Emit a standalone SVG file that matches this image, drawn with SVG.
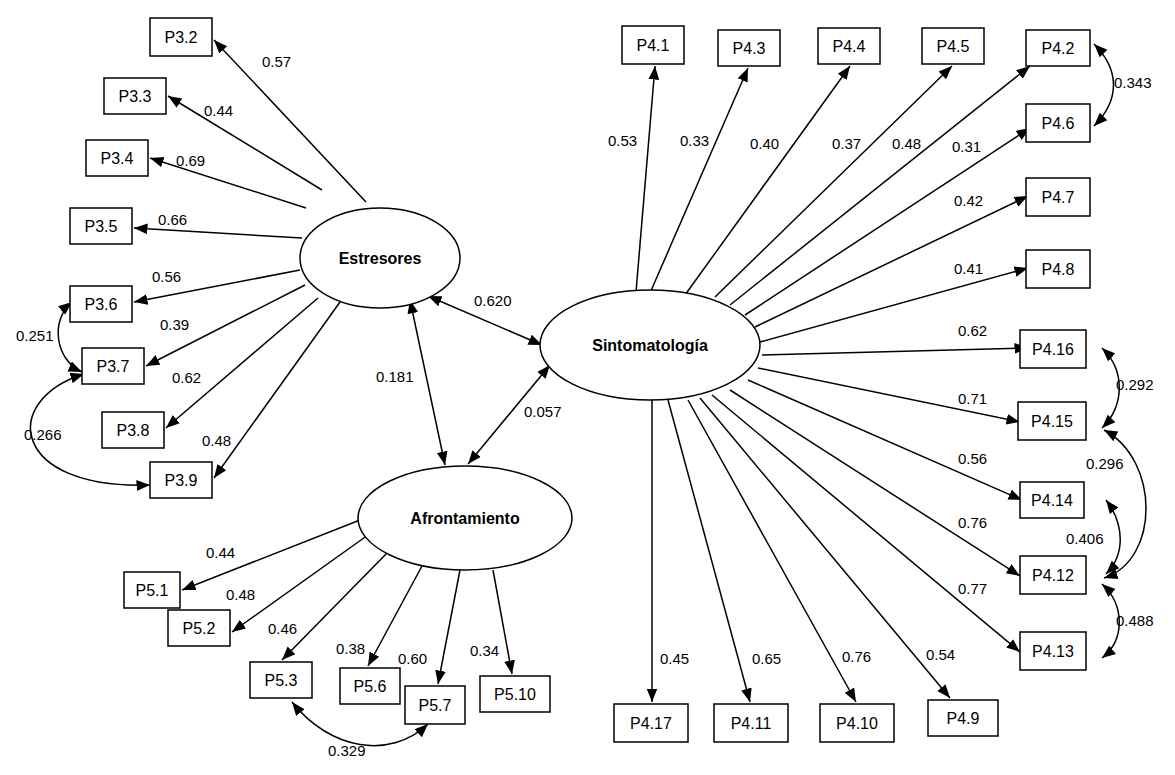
<svg xmlns="http://www.w3.org/2000/svg" width="1175" height="775" viewBox="0 0 1175 775">
<defs>
<marker id="a" viewBox="0 0 10 10" refX="10" refY="5" markerWidth="9" markerHeight="9" orient="auto-start-reverse"><path d="M0,1 L10,5 L0,9 z" fill="#000"/></marker>
<style>
rect{fill:#fff;stroke:#000;stroke-width:1.5}
ellipse{fill:#fff;stroke:#000;stroke-width:1.5}
.c path,.c line{fill:none;stroke:#000;stroke-width:1.5;marker-end:url(#a)}
.c .b{marker-start:url(#a)}
text{font-family:"Liberation Sans",Arial,sans-serif;font-size:15px}
.n text{text-anchor:middle;dominant-baseline:central;font-size:16px}
.l{font-size:14px}
.e{font-weight:bold;font-size:16px;text-anchor:middle;dominant-baseline:central}
</style>
</defs>
<rect x="0" y="0" width="1175" height="775" style="stroke:none"/>
<g class="c">
<line x1="366" y1="202" x2="214" y2="40"/>
<line x1="322" y1="190" x2="168" y2="96"/>
<line x1="306" y1="208" x2="150" y2="158"/>
<line x1="302" y1="238" x2="134" y2="228"/>
<line x1="300" y1="270" x2="134" y2="302"/>
<line x1="305" y1="285" x2="146" y2="366"/>
<line x1="318" y1="298" x2="166" y2="428"/>
<line x1="340" y1="302" x2="214" y2="478"/>
<path class="b" d="M72,302 C50,320 55,360 82,372"/>
<path class="b" d="M84,374 C0,400 10,490 150,485"/>
<line x1="636" y1="292" x2="655" y2="66"/>
<line x1="650" y1="293" x2="748" y2="68"/>
<line x1="685" y1="295" x2="850" y2="66"/>
<line x1="715" y1="297" x2="952" y2="66"/>
<line x1="730" y1="305" x2="1030" y2="66"/>
<line x1="745" y1="315" x2="1030" y2="128"/>
<line x1="755" y1="327" x2="1028" y2="196"/>
<line x1="760" y1="342" x2="1028" y2="268"/>
<line x1="762" y1="355" x2="1028" y2="348"/>
<line x1="758" y1="368" x2="1020" y2="422"/>
<line x1="748" y1="380" x2="1022" y2="500"/>
<line x1="730" y1="390" x2="1020" y2="576"/>
<line x1="712" y1="395" x2="1020" y2="652"/>
<line x1="652" y1="398" x2="652" y2="702"/>
<line x1="668" y1="400" x2="750" y2="702"/>
<line x1="688" y1="400" x2="856" y2="702"/>
<line x1="700" y1="398" x2="950" y2="698"/>
<path class="b" d="M1094,44 C1120,70 1120,100 1094,126"/>
<path class="b" d="M1102,348 C1125,370 1125,405 1102,428"/>
<path class="b" d="M1104,430 C1160,460 1160,560 1104,578"/>
<path class="b" d="M1106,500 C1125,525 1125,555 1106,574"/>
<path class="b" d="M1102,584 C1125,605 1125,640 1102,658"/>
<line class="b" x1="428" y1="296" x2="542" y2="345"/>
<line class="b" x1="410" y1="300" x2="445" y2="465"/>
<line class="b" x1="550" y1="365" x2="468" y2="464"/>
<line x1="360" y1="520" x2="182" y2="590"/>
<line x1="368" y1="535" x2="232" y2="632"/>
<line x1="388" y1="552" x2="282" y2="660"/>
<line x1="422" y1="566" x2="368" y2="666"/>
<line x1="460" y1="570" x2="438" y2="684"/>
<line x1="493" y1="570" x2="512" y2="674"/>
<path class="b" d="M292,702 C330,750 390,760 428,724"/>
</g>
<g class="l">
<text x="262" y="67">0.57</text><text x="204" y="116">0.44</text><text x="176" y="166">0.69</text>
<text x="158" y="225">0.66</text><text x="152" y="282">0.56</text><text x="160" y="330">0.39</text>
<text x="172" y="383">0.62</text><text x="202" y="446">0.48</text>
<text x="16" y="341">0.251</text><text x="24" y="440">0.266</text>
<text x="608" y="146">0.53</text><text x="680" y="146">0.33</text><text x="750" y="149">0.40</text>
<text x="832" y="149">0.37</text><text x="892" y="149">0.48</text><text x="952" y="152">0.31</text>
<text x="954" y="206">0.42</text><text x="954" y="274">0.41</text><text x="958" y="336">0.62</text>
<text x="958" y="404">0.71</text><text x="958" y="464">0.56</text><text x="958" y="528">0.76</text>
<text x="958" y="594">0.77</text><text x="660" y="664">0.45</text><text x="752" y="664">0.65</text>
<text x="842" y="662">0.76</text><text x="926" y="660">0.54</text>
<text x="1114" y="88">0.343</text><text x="1116" y="390">0.292</text><text x="1086" y="469">0.296</text>
<text x="1066" y="544">0.406</text><text x="1116" y="626">0.488</text>
<text x="474" y="306">0.620</text><text x="376" y="382">0.181</text><text x="524" y="417">0.057</text>
<text x="206" y="558">0.44</text><text x="226" y="600">0.48</text><text x="268" y="634">0.46</text>
<text x="336" y="654">0.38</text><text x="398" y="664">0.60</text><text x="470" y="656">0.34</text>
<text x="328" y="756">0.329</text>
</g>
<g id="estresores"><ellipse cx="380" cy="258" rx="80" ry="50"/><text class="e" x="380" y="258">Estresores</text></g>
<g id="sintomatologia"><ellipse cx="650" cy="345" rx="110" ry="55"/><text class="e" x="650" y="345">Sintomatología</text></g>
<g id="afrontamiento"><ellipse cx="465" cy="518" rx="107" ry="52"/><text class="e" x="465" y="518">Afrontamiento</text></g>
<g class="n">
<g id="p3_2"><rect x="150" y="18" width="62" height="38"/><text x="181" y="37">P3.2</text></g>
<g id="p3_3"><rect x="104" y="78" width="62" height="36"/><text x="135" y="96">P3.3</text></g>
<g id="p3_4"><rect x="86" y="140" width="62" height="36"/><text x="117" y="158">P3.4</text></g>
<g id="p3_5"><rect x="70" y="208" width="62" height="36"/><text x="101" y="226">P3.5</text></g>
<g id="p3_6"><rect x="70" y="286" width="62" height="36"/><text x="101" y="304">P3.6</text></g>
<g id="p3_7"><rect x="82" y="348" width="62" height="36"/><text x="113" y="366">P3.7</text></g>
<g id="p3_8"><rect x="102" y="412" width="62" height="36"/><text x="133" y="430">P3.8</text></g>
<g id="p3_9"><rect x="150" y="462" width="62" height="36"/><text x="181" y="480">P3.9</text></g>
<g id="p4_1"><rect x="622" y="26" width="62" height="38"/><text x="653" y="45">P4.1</text></g>
<g id="p4_3"><rect x="718" y="30" width="62" height="36"/><text x="749" y="48">P4.3</text></g>
<g id="p4_4"><rect x="818" y="28" width="62" height="36"/><text x="849" y="46">P4.4</text></g>
<g id="p4_5"><rect x="922" y="28" width="62" height="36"/><text x="953" y="46">P4.5</text></g>
<g id="p4_2"><rect x="1026" y="30" width="64" height="36"/><text x="1058" y="48">P4.2</text></g>
<g id="p4_6"><rect x="1026" y="104" width="64" height="38"/><text x="1058" y="123">P4.6</text></g>
<g id="p4_7"><rect x="1026" y="178" width="64" height="38"/><text x="1058" y="197">P4.7</text></g>
<g id="p4_8"><rect x="1026" y="250" width="64" height="38"/><text x="1058" y="269">P4.8</text></g>
<g id="p4_16"><rect x="1020" y="330" width="66" height="38"/><text x="1053" y="349">P4.16</text></g>
<g id="p4_15"><rect x="1018" y="402" width="68" height="38"/><text x="1052" y="421">P4.15</text></g>
<g id="p4_14"><rect x="1020" y="482" width="64" height="36"/><text x="1052" y="500">P4.14</text></g>
<g id="p4_12"><rect x="1020" y="556" width="66" height="38"/><text x="1053" y="575">P4.12</text></g>
<g id="p4_13"><rect x="1020" y="632" width="66" height="38"/><text x="1053" y="651">P4.13</text></g>
<g id="p4_17"><rect x="614" y="704" width="74" height="38"/><text x="651" y="723">P4.17</text></g>
<g id="p4_11"><rect x="714" y="704" width="74" height="38"/><text x="751" y="723">P4.11</text></g>
<g id="p4_10"><rect x="820" y="704" width="74" height="38"/><text x="857" y="723">P4.10</text></g>
<g id="p4_9"><rect x="928" y="700" width="70" height="36"/><text x="963" y="718">P4.9</text></g>
<g id="p5_1"><rect x="124" y="572" width="56" height="36"/><text x="152" y="590">P5.1</text></g>
<g id="p5_2"><rect x="168" y="610" width="62" height="36"/><text x="199" y="628">P5.2</text></g>
<g id="p5_3"><rect x="250" y="662" width="62" height="36"/><text x="281" y="680">P5.3</text></g>
<g id="p5_6"><rect x="340" y="668" width="60" height="36"/><text x="370" y="686">P5.6</text></g>
<g id="p5_7"><rect x="405" y="686" width="60" height="38"/><text x="435" y="705">P5.7</text></g>
<g id="p5_10"><rect x="480" y="676" width="70" height="36"/><text x="515" y="694">P5.10</text></g>
</g>
</svg>
